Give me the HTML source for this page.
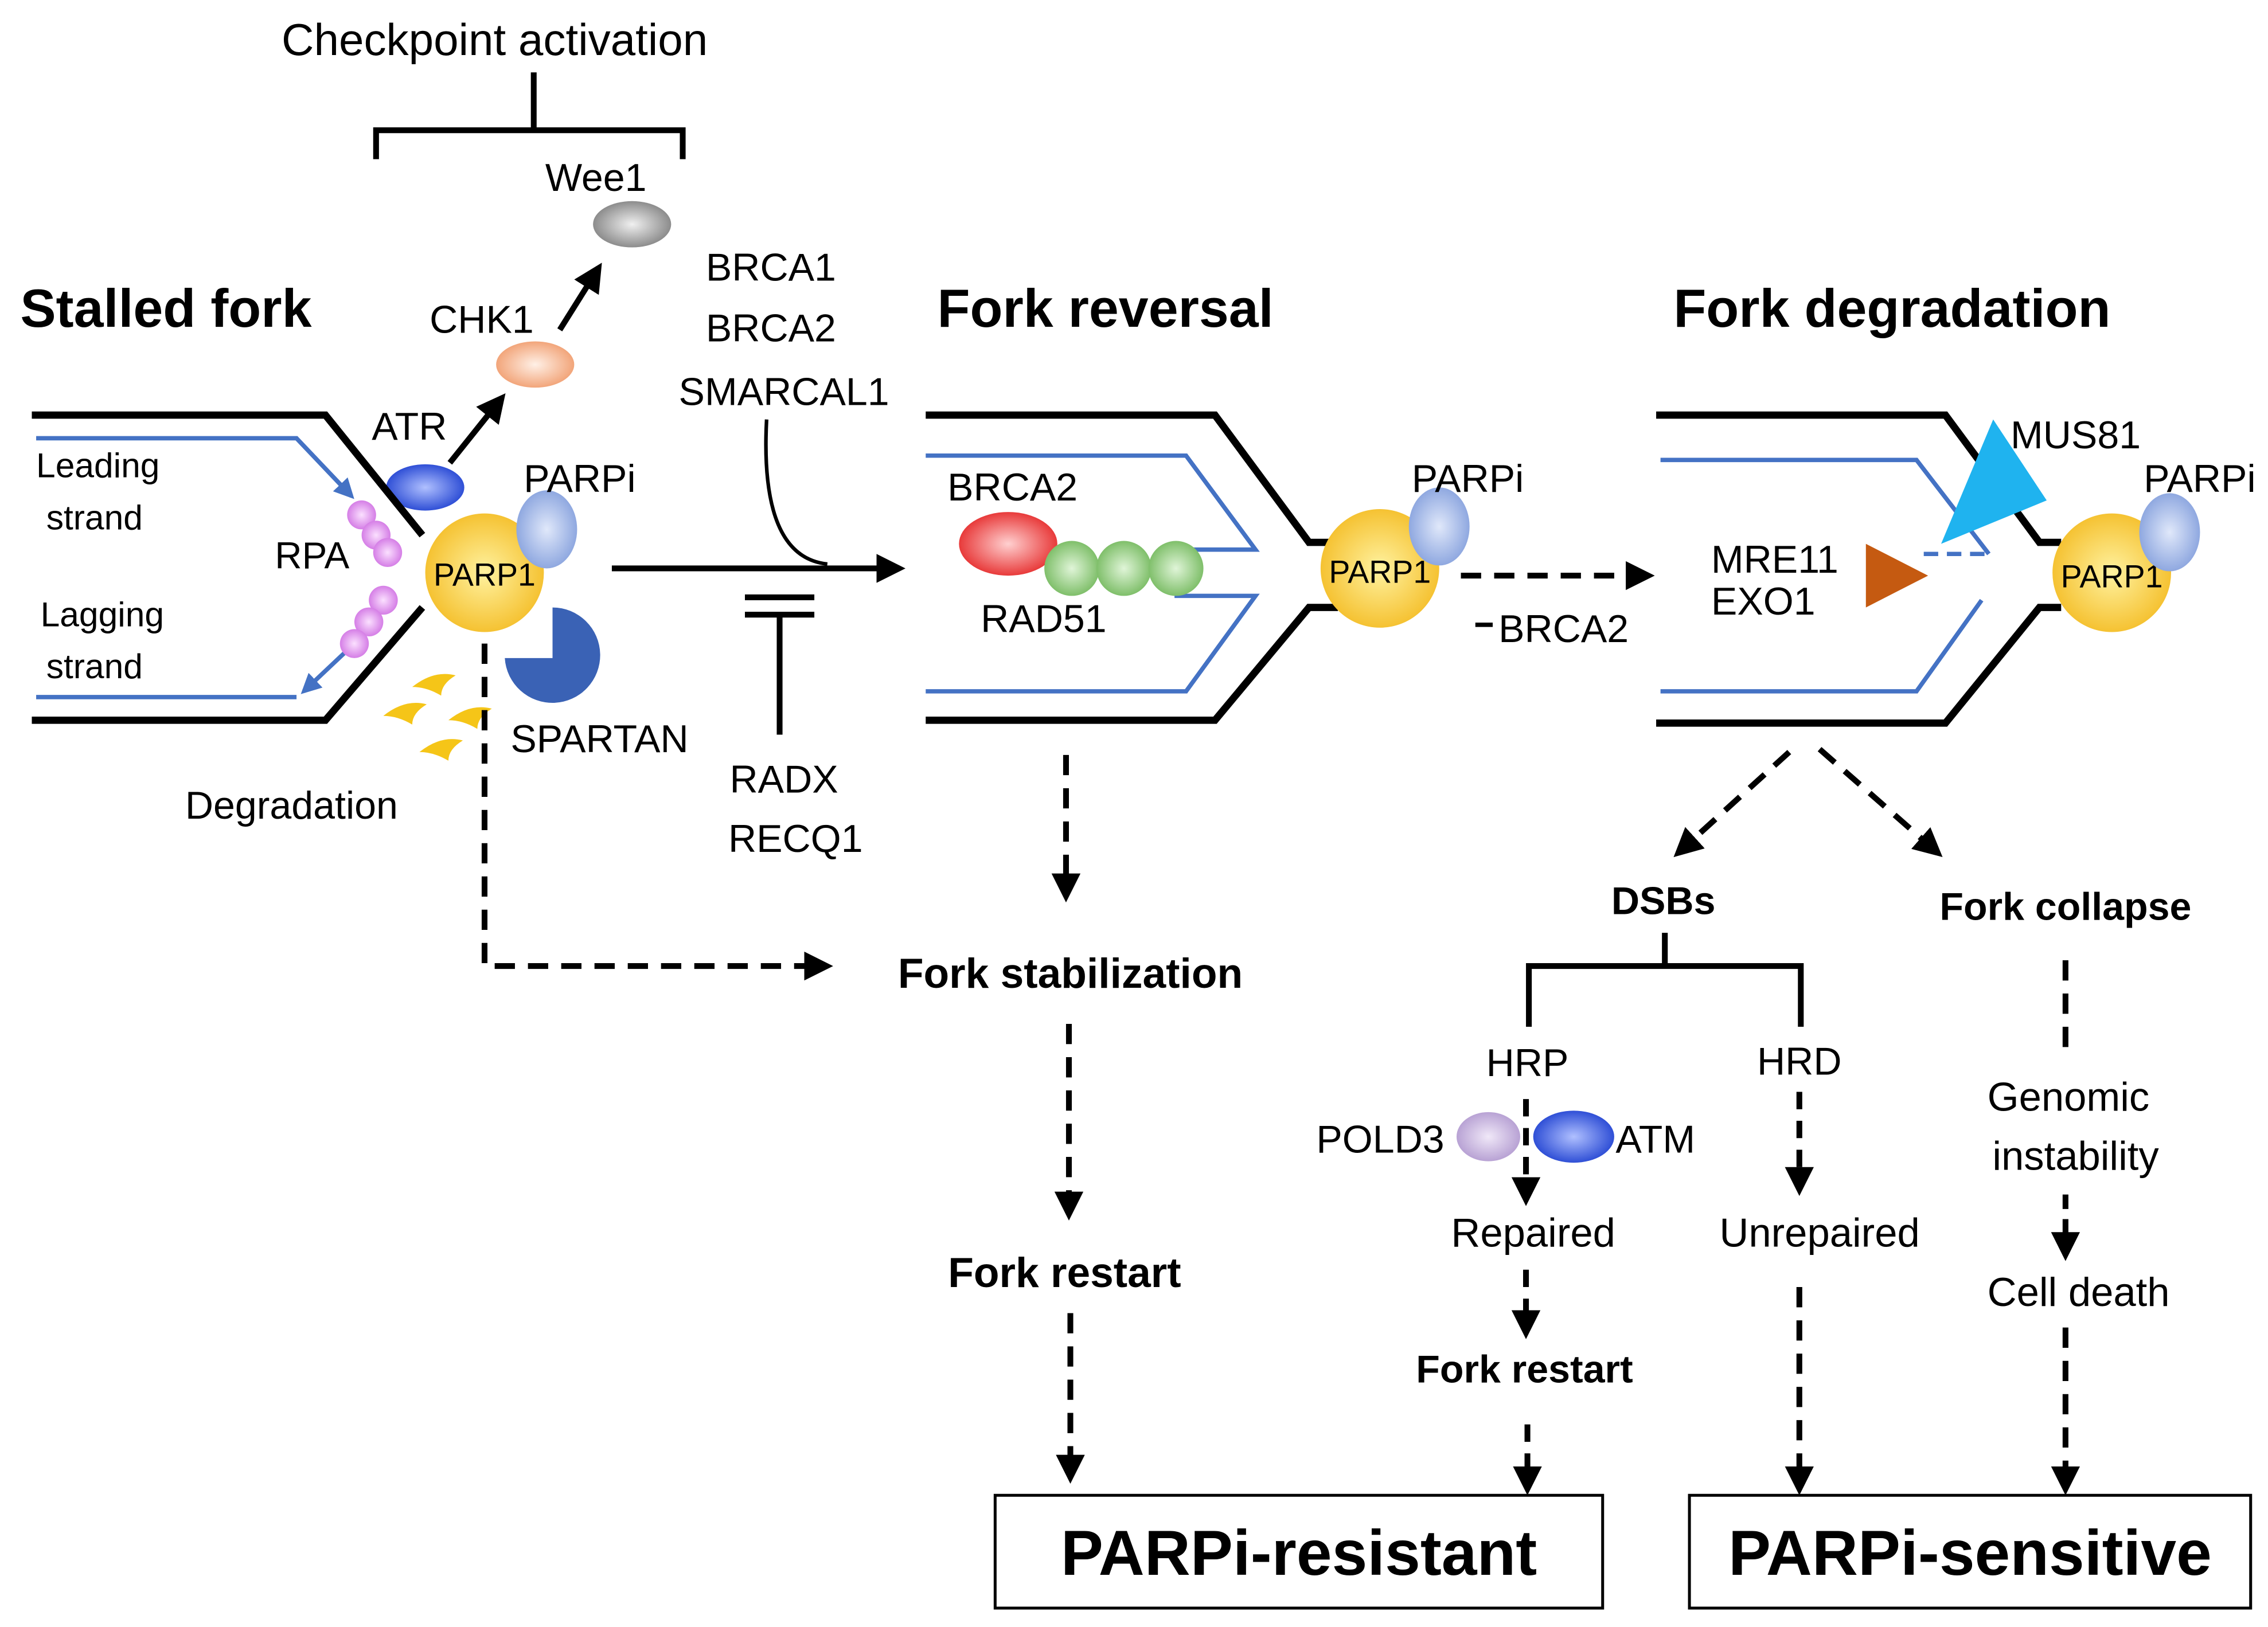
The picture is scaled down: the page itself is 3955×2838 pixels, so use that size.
<!DOCTYPE html>
<html><head><meta charset="utf-8"><style>
html,body{margin:0;padding:0;background:#fff}
svg{display:block}
text{font-family:"Liberation Sans",sans-serif;fill:#000}
.b{font-weight:bold}
</style></head><body>
<svg width="3955" height="2838" viewBox="0 0 1568 1125" xmlns="http://www.w3.org/2000/svg">
<defs>
<marker id="a" viewBox="0 0 10 10" refX="8" refY="5" markerWidth="20" markerHeight="20" markerUnits="userSpaceOnUse" orient="auto"><path d="M0,0 L10,5 L0,10 z" fill="#000"/></marker>
<marker id="ab" viewBox="0 0 10 10" refX="8" refY="5" markerWidth="14" markerHeight="14" markerUnits="userSpaceOnUse" orient="auto"><path d="M0,0 L10,5 L0,10 z" fill="#4472c4"/></marker>
<radialGradient id="gy"><stop offset="0" stop-color="#fff2a0"/><stop offset="1" stop-color="#f5c232"/></radialGradient>
<radialGradient id="gb"><stop offset="0" stop-color="#e0e8fa"/><stop offset="1" stop-color="#8fa8e0"/></radialGradient>
<radialGradient id="gblue"><stop offset="0" stop-color="#b0c0ff"/><stop offset="1" stop-color="#2f4fd6"/></radialGradient>
<radialGradient id="gr"><stop offset="0" stop-color="#ffd0d0"/><stop offset="1" stop-color="#e83a3a"/></radialGradient>
<radialGradient id="gg"><stop offset="0" stop-color="#e0f5d8"/><stop offset="1" stop-color="#7fbf6a"/></radialGradient>
<radialGradient id="gp"><stop offset="0" stop-color="#fbe0ff"/><stop offset="1" stop-color="#d57ee6"/></radialGradient>
<radialGradient id="go"><stop offset="0" stop-color="#fff0e6"/><stop offset="1" stop-color="#f2a57a"/></radialGradient>
<radialGradient id="ggr"><stop offset="0" stop-color="#f0f0f0"/><stop offset="1" stop-color="#8c8c8c"/></radialGradient>
<radialGradient id="gl"><stop offset="0" stop-color="#f0e8f8"/><stop offset="1" stop-color="#b8a2d4"/></radialGradient>
</defs>

<text x="342" y="38" font-size="31" text-anchor="middle">Checkpoint activation</text>
<path d="M369,50 V90 M260,110 V90 H472 V110" stroke="#000" stroke-width="4" fill="none"/>
<text x="412" y="132" font-size="27" text-anchor="middle">Wee1</text>
<ellipse cx="437" cy="155" rx="27" ry="16" fill="url(#ggr)"/>
<text x="333" y="230" font-size="27" text-anchor="middle">CHK1</text>
<ellipse cx="370" cy="252" rx="27" ry="16" fill="url(#go)"/>
<line x1="387" y1="228" x2="414" y2="185" stroke="#000" stroke-width="4" marker-end="url(#a)"/>
<text x="283" y="304" font-size="27" text-anchor="middle">ATR</text>
<ellipse cx="294" cy="337" rx="27" ry="16" fill="url(#gblue)"/>
<line x1="311" y1="320" x2="347" y2="275" stroke="#000" stroke-width="4" marker-end="url(#a)"/>

<text x="14" y="226" font-size="37" class="b">Stalled fork</text>
<text x="648" y="226" font-size="37" class="b">Fork reversal</text>
<text x="1157" y="226" font-size="37" class="b">Fork degradation</text>

<path d="M22,287 H225 L292,370 M22,498 H225 L292,420" stroke="#000" stroke-width="5" fill="none"/>
<path d="M25,303 H205 L243,343" stroke="#4472c4" stroke-width="3" fill="none" marker-end="url(#ab)"/>
<path d="M25,482 H205" stroke="#4472c4" stroke-width="3" fill="none"/>
<path d="M245,445 L210,478" stroke="#4472c4" stroke-width="3" fill="none" marker-end="url(#ab)"/>
<text x="25" y="330" font-size="24">Leading</text>
<text x="32" y="366" font-size="24">strand</text>
<text x="28" y="433" font-size="24">Lagging</text>
<text x="32" y="469" font-size="24">strand</text>
<text x="190" y="393" font-size="26">RPA</text>
<circle cx="250" cy="356" r="10" fill="url(#gp)"/><circle cx="260" cy="370" r="10" fill="url(#gp)"/><circle cx="268" cy="382" r="10" fill="url(#gp)"/>
<circle cx="265" cy="415" r="10" fill="url(#gp)"/><circle cx="255" cy="430" r="10" fill="url(#gp)"/><circle cx="245" cy="445" r="10" fill="url(#gp)"/>
<circle cx="335" cy="396" r="41" fill="url(#gy)"/>
<text x="335" y="405" font-size="22" text-anchor="middle">PARP1</text>
<ellipse cx="378" cy="366" rx="21" ry="27" fill="url(#gb)"/>
<text x="362" y="340" font-size="27">PARPi</text>
<path d="M382,455 L382,420 A33,33 0 1 1 349,455 Z" fill="#3a62b5"/>
<text x="353" y="520" font-size="27">SPARTAN</text>
<g fill="#f5c518">
<path d="M285,475 q15,-12 30,-8 q-10,6 -10,14 q-10,-6 -20,-6z"/>
<path d="M265,495 q15,-12 30,-8 q-10,6 -10,14 q-10,-6 -20,-6z"/>
<path d="M310,498 q15,-12 30,-8 q-10,6 -10,14 q-10,-6 -20,-6z"/>
<path d="M290,520 q15,-12 30,-8 q-10,6 -10,14 q-10,-6 -20,-6z"/>
</g>
<text x="128" y="566" font-size="27">Degradation</text>

<line x1="423" y1="393" x2="622" y2="393" stroke="#000" stroke-width="4" marker-end="url(#a)"/>
<path d="M530,290 Q525,385 572,390" stroke="#000" stroke-width="2.5" fill="none"/>
<text x="533" y="194" font-size="27" text-anchor="middle">BRCA1</text>
<text x="533" y="236" font-size="27" text-anchor="middle">BRCA2</text>
<text x="542" y="280" font-size="27" text-anchor="middle">SMARCAL1</text>
<path d="M515,413 H563 M515,425 H563 M539,425 V508" stroke="#000" stroke-width="4" fill="none"/>
<text x="542" y="548" font-size="27" text-anchor="middle">RADX</text>
<text x="550" y="589" font-size="27" text-anchor="middle">RECQ1</text>

<path d="M335,445 V668 H572" stroke="#000" stroke-width="4" stroke-dasharray="14,9" fill="none" marker-end="url(#a)"/>

<path d="M640,287 H840 L905,375 H925 M640,498 H840 L905,420 H925" stroke="#000" stroke-width="5" fill="none"/>
<path d="M640,315 H820 L868,380 H815 M640,478 H820 L868,412 H812" stroke="#4472c4" stroke-width="3" fill="none"/>
<text x="655" y="346" font-size="27">BRCA2</text>
<ellipse cx="697" cy="376" rx="34" ry="22" fill="url(#gr)"/>
<circle cx="741" cy="393" r="19" fill="url(#gg)"/><circle cx="777" cy="393" r="19" fill="url(#gg)"/><circle cx="813" cy="393" r="19" fill="url(#gg)"/>
<text x="678" y="437" font-size="27">RAD51</text>
<circle cx="954" cy="393" r="41" fill="url(#gy)"/>
<text x="954" y="403" font-size="22" text-anchor="middle">PARP1</text>
<ellipse cx="995" cy="364" rx="21" ry="27" fill="url(#gb)"/>
<text x="976" y="340" font-size="27">PARPi</text>
<line x1="1010" y1="398" x2="1140" y2="398" stroke="#000" stroke-width="4" stroke-dasharray="14,9" marker-end="url(#a)"/>
<line x1="1020" y1="432" x2="1032" y2="432" stroke="#000" stroke-width="3"/>
<text x="1036" y="444" font-size="27">BRCA2</text>

<line x1="737" y1="522" x2="737" y2="620" stroke="#000" stroke-width="4" stroke-dasharray="14,9" marker-end="url(#a)"/>
<text x="740" y="683" font-size="29" text-anchor="middle" class="b">Fork stabilization</text>
<line x1="739" y1="708" x2="739" y2="840" stroke="#000" stroke-width="4" stroke-dasharray="14,9" marker-end="url(#a)"/>
<text x="736" y="890" font-size="29" text-anchor="middle" class="b">Fork restart</text>
<line x1="740" y1="908" x2="740" y2="1022" stroke="#000" stroke-width="4" stroke-dasharray="14,9" marker-end="url(#a)"/>

<path d="M1145,287 H1345 L1410,375 H1425 M1145,500 H1345 L1410,420 H1425" stroke="#000" stroke-width="5" fill="none"/>
<path d="M1148,318 H1325 L1375,383 M1148,478 H1325 L1370,415" stroke="#4472c4" stroke-width="3" fill="none"/>
<line x1="1372" y1="383" x2="1325" y2="383" stroke="#4472c4" stroke-width="3" stroke-dasharray="10,6"/>
<path d="M1290,376 L1333,398 L1290,420 Z" fill="#c55a11"/>
<path d="M1378,290 L1415,346 L1342,376 Z" fill="#1fb3ef"/>
<text x="1390" y="310" font-size="27">MUS81</text>
<text x="1183" y="396" font-size="27">MRE11</text>
<text x="1183" y="425" font-size="27">EXO1</text>
<circle cx="1460" cy="396" r="41" fill="url(#gy)"/>
<text x="1460" y="406" font-size="22" text-anchor="middle">PARP1</text>
<ellipse cx="1500" cy="368" rx="21" ry="27" fill="url(#gb)"/>
<text x="1482" y="340" font-size="27">PARPi</text>

<line x1="1237" y1="520" x2="1160" y2="590" stroke="#000" stroke-width="4" stroke-dasharray="14,9" marker-end="url(#a)"/>
<line x1="1258" y1="518" x2="1340" y2="590" stroke="#000" stroke-width="4" stroke-dasharray="14,9" marker-end="url(#a)"/>
<text x="1150" y="632" font-size="27" text-anchor="middle" class="b">DSBs</text>
<text x="1428" y="636" font-size="27" text-anchor="middle" class="b">Fork collapse</text>
<path d="M1151,645 V668 M1057,710 V668 H1245 V710" stroke="#000" stroke-width="4" fill="none"/>
<text x="1056" y="744" font-size="27" text-anchor="middle">HRP</text>
<text x="1244" y="743" font-size="27" text-anchor="middle">HRD</text>
<line x1="1055" y1="760" x2="1055" y2="830" stroke="#000" stroke-width="4" stroke-dasharray="12,8" marker-end="url(#a)"/>
<ellipse cx="1029" cy="786" rx="22" ry="17" fill="url(#gl)"/>
<ellipse cx="1088" cy="786" rx="28" ry="18" fill="url(#gblue)"/>
<text x="910" y="797" font-size="27">POLD3</text>
<text x="1117" y="797" font-size="27">ATM</text>
<line x1="1244" y1="755" x2="1244" y2="823" stroke="#000" stroke-width="4" stroke-dasharray="12,8" marker-end="url(#a)"/>
<text x="1060" y="862" font-size="28" text-anchor="middle">Repaired</text>
<text x="1258" y="862" font-size="28" text-anchor="middle">Unrepaired</text>
<line x1="1055" y1="878" x2="1055" y2="922" stroke="#000" stroke-width="4" stroke-dasharray="12,8" marker-end="url(#a)"/>
<text x="1054" y="956" font-size="27" text-anchor="middle" class="b">Fork restart</text>
<line x1="1056" y1="985" x2="1056" y2="1030" stroke="#000" stroke-width="4" stroke-dasharray="12,8" marker-end="url(#a)"/>
<line x1="1244" y1="890" x2="1244" y2="1030" stroke="#000" stroke-width="4" stroke-dasharray="14,9" marker-end="url(#a)"/>
<line x1="1428" y1="664" x2="1428" y2="730" stroke="#000" stroke-width="4" stroke-dasharray="14,9"/>
<text x="1430" y="768" font-size="28" text-anchor="middle">Genomic</text>
<text x="1435" y="809" font-size="28" text-anchor="middle">instability</text>
<line x1="1428" y1="826" x2="1428" y2="868" stroke="#000" stroke-width="4" stroke-dasharray="10,7" marker-end="url(#a)"/>
<text x="1437" y="903" font-size="28" text-anchor="middle">Cell death</text>
<line x1="1428" y1="918" x2="1428" y2="1030" stroke="#000" stroke-width="4" stroke-dasharray="14,9" marker-end="url(#a)"/>

<rect x="688" y="1034" width="420" height="78" fill="#fff" stroke="#000" stroke-width="2"/>
<text x="898" y="1089" font-size="44" text-anchor="middle" class="b">PARPi-resistant</text>
<rect x="1168" y="1034" width="388" height="78" fill="#fff" stroke="#000" stroke-width="2"/>
<text x="1362" y="1089" font-size="44" text-anchor="middle" class="b">PARPi-sensitive</text>
</svg>
</body></html>
